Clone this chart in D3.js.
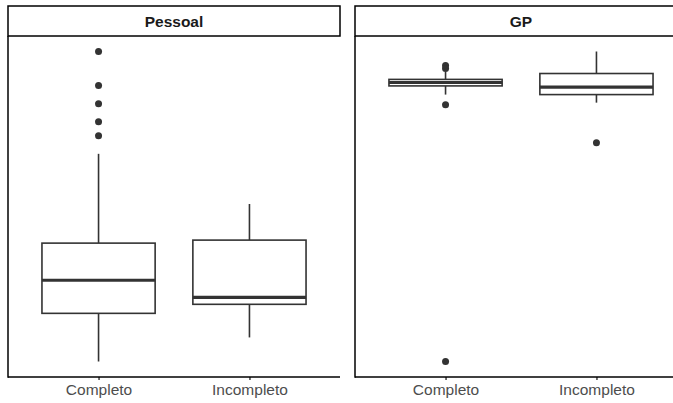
<!DOCTYPE html>
<html>
<head>
<meta charset="utf-8">
<script src="https://cdn.jsdelivr.net/npm/d3@7"></script>
<style>
  body { margin: 0; background: #fff; }
  svg { display: block; overflow: hidden; }
  text { font-family: "Liberation Sans", Arial, sans-serif; }
</style>
</head>
<body>
<svg id="chart" width="673" height="403"></svg>
<script>
// categories on the x axis and the two facets
let categories = ["Completo", "Incompleto"]
let facets = ["Pessoal", "GP"]

// box stats per category: [lower whisker, q1, median, q3, upper whisker]
let pessoalStats = [[2, 11.6, 18.2, 25.6, 43.4], [6.8, 13.4, 14.8, 26.2, 33.4]]
let pessoalOutliers = [[47, 49.8, 53.4, 57, 63.8], []]

let gpStats = [[86.1, 88.9, 90.0, 91.0, 93.5], [83.5, 86.1, 88.5, 92.9, 100]]
let gpOutliers = [[95.5, 94.5, 82.8, 0], [70.6]]

let panels = [
  {name: facets[0], stats: pessoalStats, outliers: pessoalOutliers},
  {name: facets[1], stats: gpStats, outliers: gpOutliers}
]

//======================= LAYOUT =========================
let svg = d3.select("#chart"),
    left = 8,
    panelW = 332,
    gap = 15,
    stripTop = 6,
    stripH = 30,
    bottom = 377,
    lw = 1.6

panels.forEach(function(p, i) {
  let x0 = left + i * (panelW + gap),
      top = stripTop + stripH,
      g = svg.append("g").attr("transform", "translate(" + x0 + ",0)")

  let x = d3.scalePoint().domain(categories).range([0, panelW]).padding(0.6),
      boxW = x.step() * 0.75

  // free y scale per facet, ggplot style 5% expansion
  let all = []
  p.stats.forEach(function(s) { all = all.concat(s) })
  p.outliers.forEach(function(o) { all = all.concat(o) })
  let ext = d3.extent(all), pad = (ext[1] - ext[0]) * 0.05
  let y = d3.scaleLinear().domain([ext[0] - pad, ext[1] + pad]).range([bottom, top])

  let box = g.selectAll(".box")
    .data(categories.map(function(c, j) { return {cat: c, s: p.stats[j], out: p.outliers[j]} }))
    .enter().append("g").attr("class", "box")

  // whiskers
  box.append("line")
    .attr("x1", function(d) { return x(d.cat) }).attr("x2", function(d) { return x(d.cat) })
    .attr("y1", function(d) { return y(d.s[3]) }).attr("y2", function(d) { return y(d.s[4]) })
    .attr("stroke", "#333").attr("stroke-width", lw)
  box.append("line")
    .attr("x1", function(d) { return x(d.cat) }).attr("x2", function(d) { return x(d.cat) })
    .attr("y1", function(d) { return y(d.s[1]) }).attr("y2", function(d) { return y(d.s[0]) })
    .attr("stroke", "#333").attr("stroke-width", lw)

  box.append("rect")
    .attr("x", function(d) { return x(d.cat) - boxW / 2 })
    .attr("width", boxW)
    .attr("y", function(d) { return y(d.s[3]) })
    .attr("height", function(d) { return y(d.s[1]) - y(d.s[3]) })
    .attr("fill", "#fff").attr("stroke", "#333").attr("stroke-width", lw)

  box.append("line")
    .attr("x1", function(d) { return x(d.cat) - boxW / 2 }).attr("x2", function(d) { return x(d.cat) + boxW / 2 })
    .attr("y1", function(d) { return y(d.s[2]) }).attr("y2", function(d) { return y(d.s[2]) })
    .attr("stroke", "#333").attr("stroke-width", lw * 2)

  box.selectAll(".outlier")
    .data(function(d) { return d.out.map(function(v) { return {cat: d.cat, v: v} }) })
    .enter().append("circle")
    .attr("class", "outlier")
    .attr("cx", function(d) { return x(d.cat) })
    .attr("cy", function(d) { return y(d.v) })
    .attr("r", 3.5)
    .attr("fill", "#333")

  //======================= AXES & STRIP =========================
  let ax = g.append("g").attr("transform", "translate(0," + bottom + ")")
    .call(d3.axisBottom(x).tickSizeInner(3).tickSizeOuter(0).tickPadding(4))
  ax.select(".domain").remove()
  ax.selectAll(".tick line").attr("stroke", "#333").attr("stroke-width", 1.4)
  ax.selectAll(".tick text")
    .attr("fill", "#4d4d4d")
    .style("font-size", "15.5px")
    .attr("dy", "0.71em")

  g.append("line").attr("x1", 0).attr("x2", panelW).attr("y1", bottom).attr("y2", bottom)
    .attr("stroke", "#000").attr("stroke-width", 1.5)
  g.append("line").attr("x1", 0).attr("x2", 0).attr("y1", top).attr("y2", bottom + 0.75)
    .attr("stroke", "#000").attr("stroke-width", 1.5)

  g.append("rect")
    .attr("x", 0).attr("y", stripTop).attr("width", panelW).attr("height", stripH)
    .attr("fill", "#fff").attr("stroke", "#000").attr("stroke-width", 1.5)
  g.append("text")
    .attr("x", panelW / 2).attr("y", stripTop + stripH / 2 + 5.6)
    .attr("text-anchor", "middle")
    .attr("fill", "#1a1a1a")
    .style("font-size", "15.5px").style("font-weight", "bold")
    .text(p.name)
})
</script>
</body>
</html>
